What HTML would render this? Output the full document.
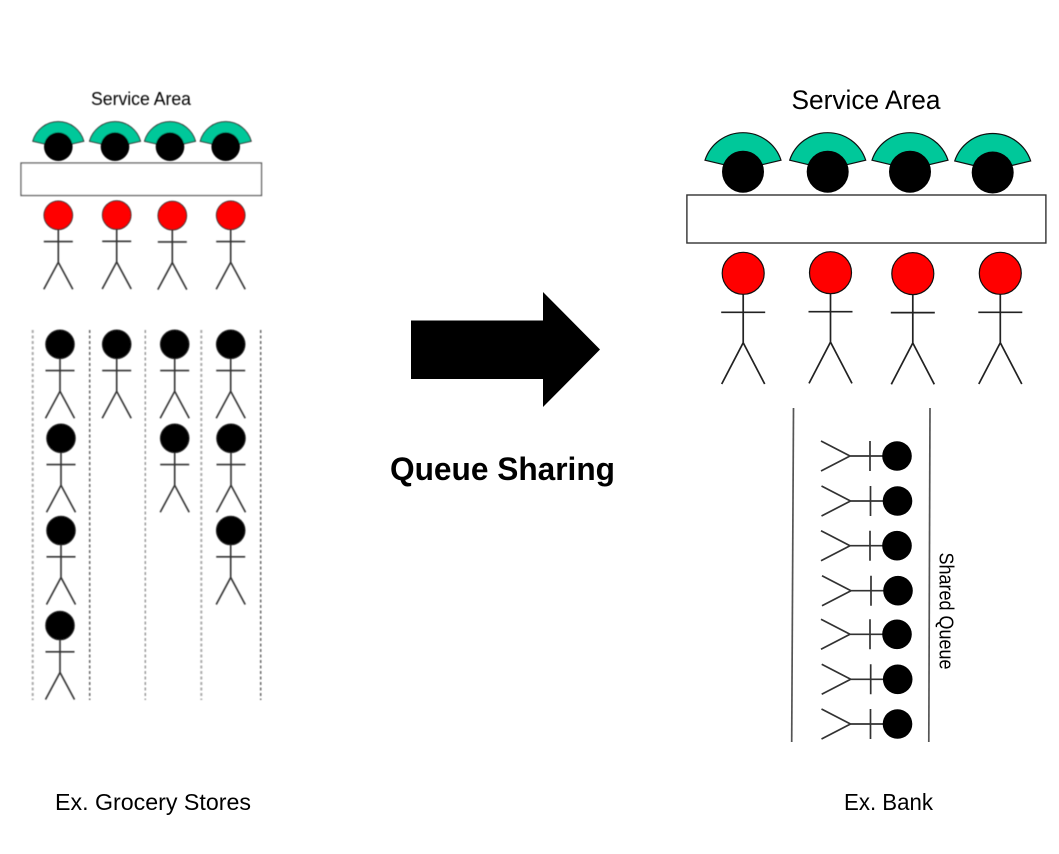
<!DOCTYPE html>
<html lang="en">
<head>
<meta charset="utf-8">
<title>Queue Sharing</title>
<style>
html,body{margin:0;padding:0;background:#fff}
svg{display:block}
text{font-family:"Liberation Sans","Noto Sans CJK KR",sans-serif;fill:#000}
</style>
</head>
<body>
<svg width="1059" height="854" viewBox="0 0 1059 854" xmlns="http://www.w3.org/2000/svg">
<defs>
<filter id="b1" x="-5%" y="-5%" width="110%" height="110%"><feGaussianBlur stdDeviation="0.6"/></filter>
<filter id="b2" x="-5%" y="-5%" width="110%" height="110%"><feGaussianBlur stdDeviation="0.35"/></filter>
<g id="sp">
<path d="M0 0V47M-14.5 26.3H14.5M-14.5 74L0 47L14.5 74" fill="none" stroke="#333" stroke-width="1.6"/>
<circle r="14.3" stroke="#222" stroke-width="1"/>
</g>
<g id="lp">
<path d="M0 0V69.4M-22 39H22M-21.5 110.7L0 69.4L21.5 110.7" fill="none" stroke="#222" stroke-width="1.7"/>
<circle r="21" stroke="#111" stroke-width="1.2"/>
</g>
<g id="qp">
<path d="M0 0H-47M-27 -15V15M-76 -15L-47 0L-76 15" fill="none" stroke="#333" stroke-width="1.7"/>
<circle r="14.8" fill="#000"/>
</g>
<g id="sa">
<path d="M-25.5 -5.5A26.4 26.4 0 0 1 25.5 -5.5L10 -2H-10Z" fill="#00c89a" stroke="#222" stroke-width="1"/>
<circle r="14.3" fill="#000"/>
</g>
<g id="la">
<path d="M-38 -11.5A40 40 0 0 1 38 -11.5L15 -6H-15Z" fill="#00c89a" stroke="#111" stroke-width="1.2"/>
<circle r="21" fill="#000"/>
</g>
</defs>

<g filter="url(#b1)">
<text x="91" y="105" font-size="18" textLength="100" lengthAdjust="spacingAndGlyphs" fill="#222">Service Area</text>
<use href="#sa" x="58.3" y="146.7"/>
<use href="#sa" x="115" y="146.7"/>
<use href="#sa" x="170" y="146.7"/>
<use href="#sa" x="225.7" y="146.7"/>
<rect x="21" y="163" width="240.5" height="32.5" fill="#fff" stroke="#555" stroke-width="1.3"/>
<g fill="#f00">
<use href="#sp" x="58.3" y="215.3"/>
<use href="#sp" x="116.7" y="215"/>
<use href="#sp" x="172.3" y="215.6"/>
<use href="#sp" x="230.7" y="215.3"/>
</g>
<g stroke="#666" stroke-width="1.5" stroke-dasharray="3 2.5">
<path d="M32.7 330V700" stroke="#aaa" stroke-width="2"/>
<path d="M89.7 330V700"/>
<path d="M145.3 330V700" stroke="#999"/>
<path d="M201.3 330V700" stroke="#aaa" stroke-width="2"/>
<path d="M260.7 330V700"/>
</g>
<g fill="#000">
<use href="#sp" x="60" y="344.3"/>
<use href="#sp" x="116.7" y="344.3"/>
<use href="#sp" x="174.7" y="344.3"/>
<use href="#sp" x="230.7" y="344.3"/>
<use href="#sp" x="61" y="438.3"/>
<use href="#sp" x="174.7" y="438.3"/>
<use href="#sp" x="231" y="438.3"/>
<use href="#sp" x="61" y="530.5"/>
<use href="#sp" x="230.7" y="530.5"/>
<use href="#sp" x="60" y="625.5"/>
</g>
</g>

<g filter="url(#b2)">
<text x="791.5" y="109" font-size="27" textLength="149" lengthAdjust="spacingAndGlyphs">Service Area</text>
<use href="#la" x="743" y="171.7"/>
<use href="#la" x="827.7" y="171.7"/>
<use href="#la" x="910" y="171.7"/>
<use href="#la" x="992.7" y="172.5"/>
<rect x="686.9" y="195" width="359" height="48" fill="#fff" stroke="#333" stroke-width="1.4"/>
<g fill="#f00">
<use href="#lp" x="743.2" y="273.3"/>
<use href="#lp" x="830.5" y="272.7"/>
<use href="#lp" x="912.8" y="273.6"/>
<use href="#lp" x="1000.3" y="273.3"/>
</g>
<path d="M793.5 408L791.7 742" stroke="#555" stroke-width="1.7"/>
<path d="M930 408L928.8 742" stroke="#555" stroke-width="1.7"/>
<use href="#qp" x="897" y="456"/>
<use href="#qp" x="897.5" y="501"/>
<use href="#qp" x="897" y="545.7"/>
<use href="#qp" x="898" y="590.7"/>
<use href="#qp" x="897" y="634.3"/>
<use href="#qp" x="897.7" y="679.3"/>
<use href="#qp" x="897.5" y="724"/>
<text transform="translate(939.5 552.5) rotate(90)" font-size="20" textLength="117" lengthAdjust="spacingAndGlyphs">Shared Queue</text>
</g>

<path d="M411 320.5H543V292L600 349.5L543 407V379H411Z" fill="#000"/>
<text x="390" y="480" font-size="32" font-weight="700" textLength="225" lengthAdjust="spacingAndGlyphs">Queue Sharing</text>
<text x="55" y="810" font-size="23" textLength="196" lengthAdjust="spacingAndGlyphs">Ex. Grocery Stores</text>
<text x="844" y="810" font-size="23" textLength="89" lengthAdjust="spacingAndGlyphs">Ex. Bank</text>
</svg>
</body>
</html>
